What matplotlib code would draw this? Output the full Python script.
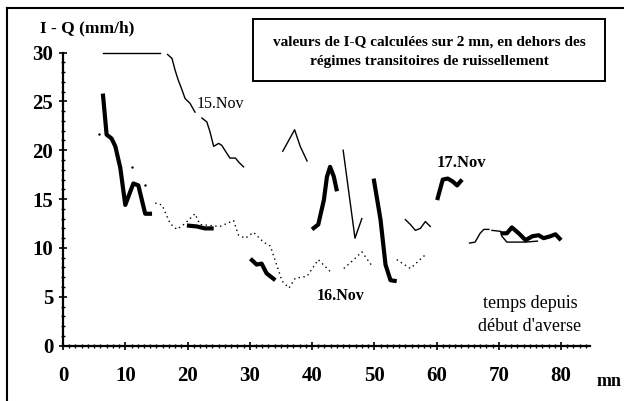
import matplotlib.pyplot as plt
from matplotlib.ticker import MultipleLocator
from matplotlib.lines import Line2D
from matplotlib.patches import Rectangle

plt.rcParams['font.family'] = ['Liberation Serif', 'DejaVu Serif']

# 15.Nov (thin solid), several pieces
nov15 = [
    ([6.5, 15.5], [30, 30]),
    ([16.8, 17.5, 18.0, 18.5, 19.1, 19.6, 20.4, 21.2],
     [29.8, 29.4, 28.2, 27.2, 26.2, 25.3, 24.8, 23.9]),
    ([22.3, 23.1, 23.6, 24.2, 25.0, 25.5, 26.3, 26.8, 27.7, 28.2, 29.0],
     [23.3, 22.9, 21.9, 20.4, 20.7, 20.5, 19.7, 19.2, 19.2, 18.8, 18.3]),
    ([35.3, 37.2, 38.1, 39.2], [19.9, 22.1, 20.4, 18.9]),
    ([45.0, 46.9, 48.0], [20.0, 11.0, 13.0]),
    ([55.0, 55.8, 56.6, 57.4, 58.2, 59.0], [12.9, 12.4, 11.8, 12.0, 12.7, 12.2]),
    ([65.3, 66.2, 67.0, 67.6, 68.4], [10.5, 10.6, 11.5, 11.9, 11.9]),
    ([68.9, 70.3, 70.5, 71.3, 74.3, 76.2], [11.8, 11.7, 11.2, 10.6, 10.6, 10.7]),
]

# 16.Nov (dotted)
nov16 = [
    ([5.7], [21.7]),
    ([11.0], [18.3]),
    ([13.2], [16.4]),
    ([14.8, 15.9, 17.2, 18.3, 19.6, 21.2, 22.0, 25.2, 27.4, 28.2, 29.3, 30.6,
      32.2, 33.3, 35.2, 36.3, 37.3, 39.2, 41.0, 42.9],
     [14.6, 14.4, 12.5, 11.9, 12.5, 13.5, 12.4, 12.2, 12.8, 11.3, 11.0, 11.6,
      10.6, 10.2, 6.6, 5.9, 6.9, 7.1, 8.8, 7.6]),
    ([45.1, 46.7, 48.0, 49.6], [7.9, 8.8, 9.6, 8.2]),
    ([53.6, 55.8, 58.2], [8.8, 7.9, 9.3]),
]

# 17.Nov (thick solid)
nov17 = [
    ([6.4, 7.0, 7.8, 8.4, 9.2, 10.0, 11.3, 12.1, 13.2, 14.3],
     [25.8, 21.6, 21.2, 20.4, 18.2, 14.4, 16.6, 16.4, 13.5, 13.5]),
    ([19.9, 21.5, 22.8, 24.2], [12.3, 12.2, 12.0, 12.0]),
    ([30.1, 31.1, 31.9, 32.7, 34.1], [8.9, 8.3, 8.4, 7.4, 6.7]),
    ([40.0, 41.0, 41.9, 42.4, 42.9, 43.5, 44.0],
     [11.9, 12.4, 14.9, 17.3, 18.3, 17.3, 15.8]),
    ([49.9, 51.0, 51.8, 52.6, 53.6], [17.1, 12.9, 8.3, 6.7, 6.6]),
    ([60.1, 61.0, 61.8, 62.6, 63.3, 64.1], [14.9, 17.0, 17.1, 16.8, 16.4, 17.0]),
    ([70.3, 71.3, 72.1, 73.2, 74.3, 75.4, 76.4, 77.2, 78.3, 79.1, 80.0],
     [11.5, 11.5, 12.1, 11.5, 10.8, 11.2, 11.3, 11.0, 11.2, 11.4, 10.8]),
]

fig = plt.figure(figsize=(6.24, 4.01), dpi=100)
ax = fig.add_axes([0.101, 0.138, 0.845, 0.731])

for x, y in nov15:
    ax.plot(x, y, color='black', lw=1.0, clip_on=False)
for x, y in nov16:
    ax.plot(x, y, color='black', lw=1.0, ls=(0, (1, 2.5)), marker='.' if len(x) == 1 else None,
            ms=1.5, clip_on=False)
for x, y in nov17:
    ax.plot(x, y, color='black', lw=3.0, solid_capstyle='butt', clip_on=False)

ax.set_xlim(0, 84.7)
ax.set_ylim(0, 30)
for s in ['top', 'right']:
    ax.spines[s].set_visible(False)
ax.spines['left'].set_linewidth(1.6)
ax.spines['bottom'].set_linewidth(1.6)

ax.xaxis.set_major_locator(MultipleLocator(10))
ax.xaxis.set_minor_locator(MultipleLocator(1))
ax.yaxis.set_major_locator(MultipleLocator(5))
ax.yaxis.set_minor_locator(MultipleLocator(1))
ax.tick_params(which='major', direction='inout', length=6, width=1.2,
               labelsize=15)
ax.tick_params(which='minor', direction='inout', length=3, width=1.0)
ax.tick_params(axis='x', pad=12)
ax.tick_params(axis='y', pad=4)
ax.set_xticks(range(0, 90, 10))
ax.set_xticklabels([str(v) for v in range(0, 90, 10)], fontweight='bold')
ax.set_yticks(range(0, 35, 5))
ax.set_yticklabels([str(v) for v in range(0, 35, 5)], fontweight='bold')

ax.text(21.5, 24.3, '15.Nov', fontsize=11.5)
ax.text(40.8, 4.7, '16.Nov', fontsize=11.5, fontweight='bold')
ax.text(60.0, 18.3, '17.Nov', fontsize=12, fontweight='bold')
ax.text(75.0, 3.1, 'temps depuis\ndébut d\'averse', fontsize=13, ha='center',
        va='center', linespacing=1.45)

fig.text(40 / 624, 1 - 28 / 401, 'I - Q (mm/h)', fontsize=12.5, fontweight='bold',
         va='center')
fig.text(597 / 624, 1 - 381 / 401, 'mn', fontsize=13, fontweight='bold', va='center')

# note box
fig.add_artist(Rectangle((253 / 624, 1 - 81 / 401), 352 / 624, 62 / 401,
                         transform=fig.transFigure, fc='white', ec='black', lw=1.4))
fig.text(429 / 624, 1 - 52 / 401,
         'valeurs de I-Q calculées sur 2 mn, en dehors des\n'
         'régimes transitoires de ruissellement',
         fontsize=11, fontweight='bold', ha='center', va='center', linespacing=1.6)

# scanned page frame (top and left edges)
fig.add_artist(Line2D([7 / 624, 7 / 624], [0, 1 - 8 / 401], color='black', lw=1.5))
fig.add_artist(Line2D([7 / 624, 1], [1 - 8 / 401, 1 - 8 / 401], color='black', lw=1.5))

fig.savefig('out.png', dpi=100)
